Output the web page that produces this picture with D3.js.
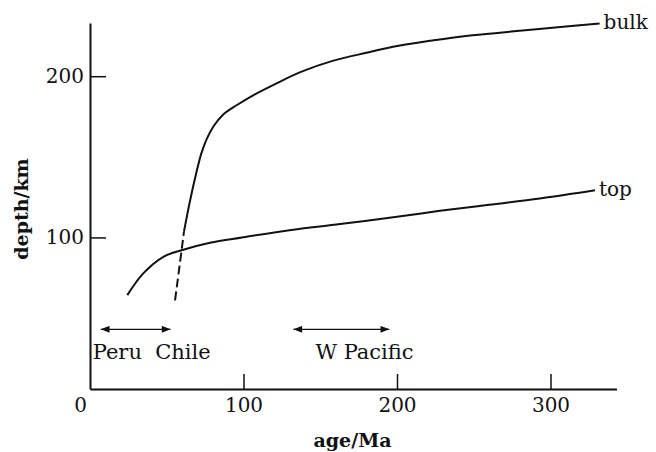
<!DOCTYPE html>
<html>
<head>
<meta charset="utf-8">
<script src="https://cdn.jsdelivr.net/npm/d3@7/dist/d3.min.js"></script>
<style>
  body { margin: 0; background: #fff; }
  svg { display: block; }
  text { font-family: "DejaVu Serif", serif; fill: #111; }
</style>
</head>
<body>
<svg id="svg0" width="656" height="452"></svg>
<script>
// ages (Ma) and depths (km)
var topAge   = [24.3, 34.7, 47.8, 59.7, 78.2, 99, 130, 163, 200, 228, 260, 293, 329];
var topDepth = [64.2, 77.7, 88, 92.1, 96.7, 100, 104.5, 108.3, 112.8, 116.5, 120.3, 124.2, 129.3];

// bulk: first part (young plates) is dashed
var bulkDashAge   = [55.4, 58.3, 61.2];
var bulkDashDepth = [61, 82, 103.5];
var bulkAge   = [61.2, 65, 69.5, 72.5, 76, 80.5, 86.5, 95.5, 106, 120, 137, 158, 180, 202, 224, 245, 267, 289, 310, 332];
var bulkDepth = [103.5, 122, 141, 152, 161, 169, 176, 182, 188, 194.8, 202.5, 209.5, 214.5, 219, 222.3, 225, 227, 229, 230.8, 232.7];

// subduction zones, age ranges
var zoneNames = ['Peru Chile', 'W Pacific'];
var zoneFrom  = [7, 132.5];
var zoneTo    = [52.5, 195];

var xTicks = [0, 100, 200, 300];
var yTicks = [100, 200];

var svg = d3.select('#svg0');

var x = d3.scaleLinear().domain([0, 343]).range([90, 616.5]);
var y = d3.scaleLinear().domain([6, 233]).range([389, 23]);

function zip(a, b) {
    return a.map(function(v, i) { return {age: v, depth: b[i]}; });
}

var line = d3.line()
    .x(function(d) { return x(d.age); })
    .y(function(d) { return y(d.depth); })
    .curve(d3.curveCatmullRom.alpha(0.5));

// axes, ticks pointing inward
var xAxis = svg.append('g')
    .attr('transform', 'translate(0,' + y(6) + ')')
    .call(d3.axisBottom(x).tickValues(xTicks).tickSize(-15).tickSizeOuter(0).tickPadding(9));

var yAxis = svg.append('g')
    .attr('transform', 'translate(' + x(0) + ',0)')
    .call(d3.axisLeft(y).tickValues(yTicks).tickSize(-16).tickSizeOuter(0).tickPadding(6));

[xAxis, yAxis].forEach(function(g) {
    g.select('.domain').attr('stroke', '#111').attr('stroke-width', 2);
    g.selectAll('.tick line').attr('stroke', '#111').attr('stroke-width', 1.5);
    g.selectAll('.tick text')
        .attr('font-family', 'DejaVu Serif')
        .attr('font-size', 20)
        .attr('fill', '#111');
});
// no tick mark at origin, "0" sits left of the corner
xAxis.selectAll('.tick').filter(function(d) { return d === 0; })
    .select('line').remove();
xAxis.selectAll('.tick').filter(function(d) { return d === 0; })
    .select('text').attr('dx', -10);

// curves
svg.append('path')
    .datum(zip(topAge, topDepth))
    .attr('d', line)
    .attr('fill', 'none')
    .attr('stroke', '#111')
    .attr('stroke-width', 2);

svg.append('path')
    .datum(zip(bulkAge, bulkDepth))
    .attr('d', line)
    .attr('fill', 'none')
    .attr('stroke', '#111')
    .attr('stroke-width', 2);

svg.append('path')
    .datum(zip(bulkDashAge, bulkDashDepth))
    .attr('d', line)
    .attr('fill', 'none')
    .attr('stroke', '#111')
    .attr('stroke-width', 2)
    .attr('stroke-dasharray', '9,4');

// curve labels
svg.append('text')
    .attr('x', x(bulkAge[bulkAge.length - 1]) + 4)
    .attr('y', y(bulkDepth[bulkDepth.length - 1]) + 6)
    .attr('font-size', 20)
    .text('bulk');

svg.append('text')
    .attr('x', x(topAge[topAge.length - 1]) + 4)
    .attr('y', y(topDepth[topDepth.length - 1]) + 6)
    .attr('font-size', 20)
    .text('top');

// arrows for subduction zones
var defs = svg.append('defs');
defs.append('marker')
    .attr('id', 'head')
    .attr('viewBox', '0 0 10 8')
    .attr('refX', 10)
    .attr('refY', 4)
    .attr('markerWidth', 12)
    .attr('markerHeight', 7)
    .attr('markerUnits', 'userSpaceOnUse')
    .attr('orient', 'auto-start-reverse')
    .append('path')
    .attr('d', 'M0,0L10,4L0,8z')
    .attr('fill', '#111');

var arrowY = y(43);

svg.selectAll('line.zone')
    .data(zoneNames)
    .enter()
    .append('line')
    .attr('class', 'zone')
    .attr('x1', function(d, i) { return x(zoneFrom[i]); })
    .attr('x2', function(d, i) { return x(zoneTo[i]); })
    .attr('y1', arrowY)
    .attr('y2', arrowY)
    .attr('stroke', '#111')
    .attr('stroke-width', 1.4)
    .attr('marker-start', 'url(#head)')
    .attr('marker-end', 'url(#head)');

// zone labels
svg.append('text')
    .attr('x', x(zoneFrom[0]) - 8)
    .attr('y', arrowY + 30)
    .attr('font-size', 21)
    .text('Peru\u00a0\u00a0Chile');

svg.append('text')
    .attr('x', x(zoneFrom[1]) + 22)
    .attr('y', arrowY + 30)
    .attr('font-size', 21)
    .text(zoneNames[1]);

// axis titles
svg.append('text')
    .attr('transform', 'translate(28,209) rotate(-90)')
    .attr('text-anchor', 'middle')
    .attr('font-size', 19)
    .attr('font-weight', 'bold')
    .text('depth/km');

svg.append('text')
    .attr('x', 352.5)
    .attr('y', 447)
    .attr('text-anchor', 'middle')
    .attr('font-size', 19)
    .attr('font-weight', 'bold')
    .text('age/Ma');
</script>
</body>
</html>
